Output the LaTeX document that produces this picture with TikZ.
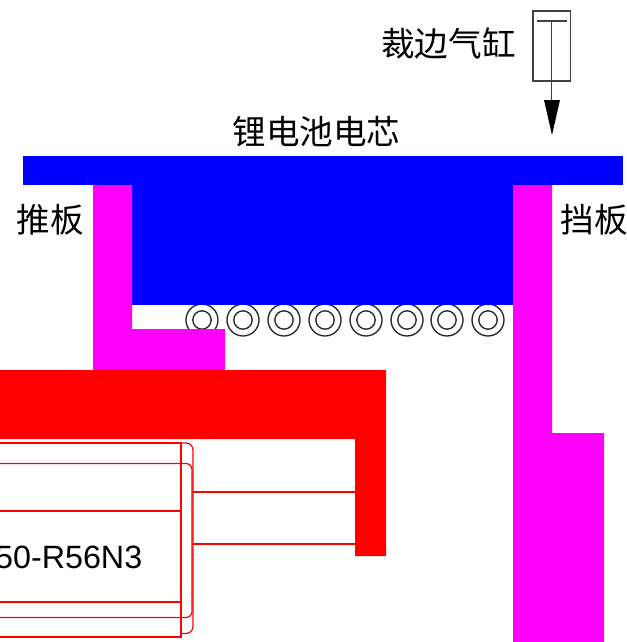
\documentclass[tikz,border=0pt]{standalone}
\usepackage{fontspec}
\setmainfont{Liberation Sans}
\newfontfamily\cjk{Noto Sans CJK SC}
\definecolor{mag}{RGB}{255,0,255}
\tikzset{
  cnlabel/.style={font=\cjk\fontsize{25.2pt}{25.2pt}\selectfont, inner sep=0pt, text=black},
  roller/.style={draw=black!85, line width=1pt, fill=white},
  redline/.style={draw=red, line width=0.9pt},
  blackline/.style={draw=black!75, line width=1pt}
}
\begin{document}
\begin{tikzpicture}[x=0.75pt,y=-0.75pt]
\useasboundingbox (0,0) rectangle (627,642);
\clip (0,0) rectangle (627,642);
% rollers
\foreach \cx in {202,243,284,325,366,407,447,488}{
  \draw[roller] (\cx,320) circle[radius=16];
  \draw[roller] (\cx,320) circle[radius=9.2];
}
% cell
\fill[blue] (23,156) rectangle (623,185);
\fill[blue] (132,185) rectangle (513,305);
% push plate and stop plate
\fill[mag] (93,185) -- (132,185) -- (132,329) -- (225,329) -- (225,370) -- (93,370) -- cycle;
\fill[mag] (513,185) -- (552,185) -- (552,433) -- (604,433) -- (604,642) -- (513,642) -- cycle;
% red bracket
\fill[red] (0,370) -- (386,370) -- (386,556) -- (355,556) -- (355,439) -- (0,439) -- cycle;
% motor
\draw[redline, rounded corners=5.25pt] (181,443) -- (193,443) -- (193,633.5) -- (181,633.5);
\draw[redline, rounded corners=4.5pt] (-5,463.5) -- (192,463.5) -- (192,617.5) -- (-5,617.5);
\draw[redline] (-5,443) -- (181,443) -- (181,637) -- (-5,637);
\draw[redline] (-5,511) -- (181,511);
\draw[redline] (-5,602) -- (181,602);
\draw[redline] (193,492) -- (355,492);
\draw[redline] (193,544) -- (355,544);
% cylinder
\draw[blackline] (533,11) rectangle (570.5,81);
\draw[blackline] (537,21) -- (566.5,21);
\draw[blackline] (551.5,21) -- (551.5,101);
\fill[black] (544,100) -- (560,100) -- (552,135) -- cycle;
% labels
\node[cnlabel] (cyl) at (448.5,44) {裁边气缸};
\node[cnlabel] (cell) at (316.5,132) {锂电池电芯};
\node[cnlabel] (push) at (50,219.5) {推板};
\node[cnlabel] (stop) at (594,219.5) {挡板};
\node[anchor=base east, inner sep=0pt, font=\fontsize{24.2pt}{24.2pt}\selectfont] (motor) at (142.5,568) {50-R56N3};
\end{tikzpicture}
\end{document}
